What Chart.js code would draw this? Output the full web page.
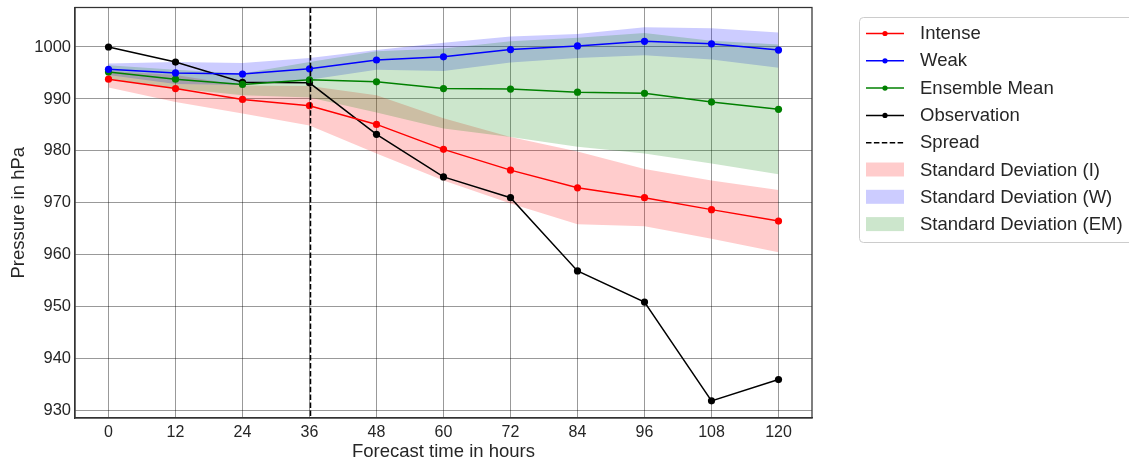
<!DOCTYPE html>
<html>
<head>
<meta charset="utf-8">
<script src="https://cdn.jsdelivr.net/npm/chart.js@4.4.1/dist/chart.umd.min.js"></script>
<style>
html,body{margin:0;padding:0;background:#fff}
#wrap{width:1129px;height:465px}
</style>
</head>
<body>
<div id="wrap"><canvas id="pressureChart" width="1129" height="465"></canvas></div>
<script>
// forecast hours and pressures (hPa)
const hours=[0,12,24,36,48,60,72,84,96,108,120];
const intense=[993.8,992.0,989.9,988.7,985.1,980.3,976.3,972.9,971.0,968.7,966.5];
const weak=[995.7,995.0,994.8,995.8,997.5,998.1,999.5,1000.2,1001.1,1000.6,999.4];
const ensembleMean=[995.2,993.8,992.8,993.7,993.3,992.0,991.9,991.3,991.1,989.4,988.0];
const observation=[1000.0,997.1,993.2,993.1,983.2,975.0,971.0,956.9,950.9,931.9,936.0];
const stdIntense=[1.6,2.6,2.7,3.8,5.6,6.0,6.4,7.0,5.5,5.6,6.0];
const stdWeak=[1.1,2.1,2.1,2.1,1.9,2.7,2.5,2.3,2.7,3.0,3.4];
const stdEnsemble=[1.3,1.8,2.1,3.4,5.9,7.7,9.2,10.5,11.6,11.8,12.5];
const spreadHour=36;
const yTicks=[930,940,950,960,970,980,990,1000];
const legendLabels=['Intense','Weak','Ensemble Mean','Observation','Spread',
  'Standard Deviation (I)','Standard Deviation (W)','Standard Deviation (EM)'];

const FONT="'Liberation Sans', Arial, sans-serif";
const TXT='#262626';
const RED='#ff0000',BLUE='#0000ff',GREEN='#008000',BLACK='#000000';
const RED_A='rgba(255,0,0,0.2)',BLUE_A='rgba(0,0,255,0.2)',GREEN_A='rgba(0,128,0,0.2)';

const pts=arr=>hours.map((h,i)=>({x:h,y:arr[i]}));
const band=(mean,sd,sign)=>hours.map((h,i)=>({x:h,y:mean[i]+sign*sd[i]}));

const line=(label,arr,color)=>({
  label,data:pts(arr),borderColor:color,backgroundColor:color,
  borderWidth:1.5,pointRadius:3.6,pointBorderWidth:0,pointBackgroundColor:color,
  fill:false,tension:0
});
const bandEdge=(data,color,fill)=>({
  data,borderWidth:0,pointRadius:0,backgroundColor:color,fill,tension:0
});

// spread marker + top/right spines
const framePlugin={
  id:'frame',
  afterDatasetsDraw(chart){
    const {ctx,chartArea:a,scales:{x}}=chart;
    ctx.save();
    const sx=Math.round(x.getPixelForValue(spreadHour))+0.5;
    ctx.strokeStyle=BLACK;ctx.lineWidth=1.5;ctx.setLineDash([5.5,2.4]);
    ctx.beginPath();ctx.moveTo(sx,a.top);ctx.lineTo(sx,a.bottom);ctx.stroke();
    ctx.setLineDash([]);
    ctx.strokeStyle='#333';ctx.lineWidth=1.25;
    ctx.strokeRect(a.left,a.top,a.right-a.left,a.bottom-a.top);
    ctx.restore();
  }
};

// matplotlib-like legend box
const legendPlugin={
  id:'mplLegend',
  afterDraw(chart){
    const ctx=chart.ctx;
    const bx=859.5,by=17.5,bw=290,bh=225,row0=33,step=27.3,hx0=866,hx1=904,tx=920;
    ctx.save();
    ctx.fillStyle='rgba(255,255,255,0.8)';
    ctx.strokeStyle='#cccccc';ctx.lineWidth=1;
    ctx.beginPath();ctx.roundRect(bx,by,bw,bh,4);ctx.fill();ctx.stroke();
    const kinds=[['line',RED],['line',BLUE],['line',GREEN],['line',BLACK],['dash',BLACK],
      ['patch',RED_A],['patch',BLUE_A],['patch',GREEN_A]];
    ctx.font='18.5px '+FONT;ctx.textBaseline='middle';ctx.textAlign='left';
    legendLabels.forEach((lab,i)=>{
      const y=row0+i*step;const [k,c]=kinds[i];
      if(k==='patch'){
        ctx.fillStyle=c;ctx.fillRect(hx0,y-7,hx1-hx0,14);
      }else{
        ctx.strokeStyle=c;ctx.lineWidth=1.5;
        if(k==='dash')ctx.setLineDash([5.5,2.4]);
        ctx.beginPath();ctx.moveTo(hx0,y+0.5);ctx.lineTo(hx1,y+0.5);ctx.stroke();
        ctx.setLineDash([]);
        if(k==='line'){ctx.fillStyle=c;ctx.beginPath();ctx.arc((hx0+hx1)/2,y+0.5,2.6,0,Math.PI*2);ctx.fill();}
      }
      ctx.fillStyle=TXT;ctx.fillText(lab,tx,y+1);
    });
    ctx.restore();
  }
};

new Chart(document.getElementById('pressureChart'),{
  type:'line',
  plugins:[framePlugin,legendPlugin],
  data:{
    datasets:[
      line('Intense',intense,RED),
      line('Weak',weak,BLUE),
      line('Ensemble Mean',ensembleMean,GREEN),
      line('Observation',observation,BLACK),
      bandEdge(band(ensembleMean,stdEnsemble,1),GREEN_A,false),
      bandEdge(band(ensembleMean,stdEnsemble,-1),GREEN_A,'-1'),
      bandEdge(band(weak,stdWeak,1),BLUE_A,false),
      bandEdge(band(weak,stdWeak,-1),BLUE_A,'-1'),
      bandEdge(band(intense,stdIntense,1),RED_A,false),
      bandEdge(band(intense,stdIntense,-1),RED_A,'-1')
    ]
  },
  options:{
    responsive:false,animation:false,devicePixelRatio:1,
    layout:{padding:{top:7.5,right:317,left:0,bottom:0}},
    plugins:{legend:{display:false},tooltip:{enabled:false}},
    scales:{
      x:{
        type:'linear',min:-6,max:126,
        afterBuildTicks:s=>{s.ticks=hours.map(v=>({value:v}));},
        afterFit:s=>{s.height=47;s.paddingLeft=0;s.paddingRight=0;},
        grid:{color:'rgba(0,0,0,0.4)',lineWidth:1,drawTicks:false},
        border:{color:'#333',width:1.25},
        ticks:{color:TXT,font:{family:FONT,size:16},padding:5,maxRotation:0},
        title:{display:true,text:'Forecast time in hours',color:TXT,font:{family:FONT,size:18.5},padding:{top:0,bottom:2}}
      },
      y:{
        min:928.6,max:1007.6,
        afterBuildTicks:s=>{s.ticks=yTicks.map(v=>({value:v}));},
        afterFit:s=>{s.width=75;s.paddingTop=0;s.paddingBottom=0;},
        grid:{color:'rgba(0,0,0,0.4)',lineWidth:1,drawTicks:false},
        border:{color:'#333',width:1.25},
        ticks:{color:TXT,font:{family:FONT,size:16.5},padding:4,callback:v=>String(v)},
        title:{display:true,text:'Pressure in hPa',color:TXT,font:{family:FONT,size:18.5},padding:{top:8,bottom:0}}
      }
    }
  }
});
</script>
</body>
</html>
